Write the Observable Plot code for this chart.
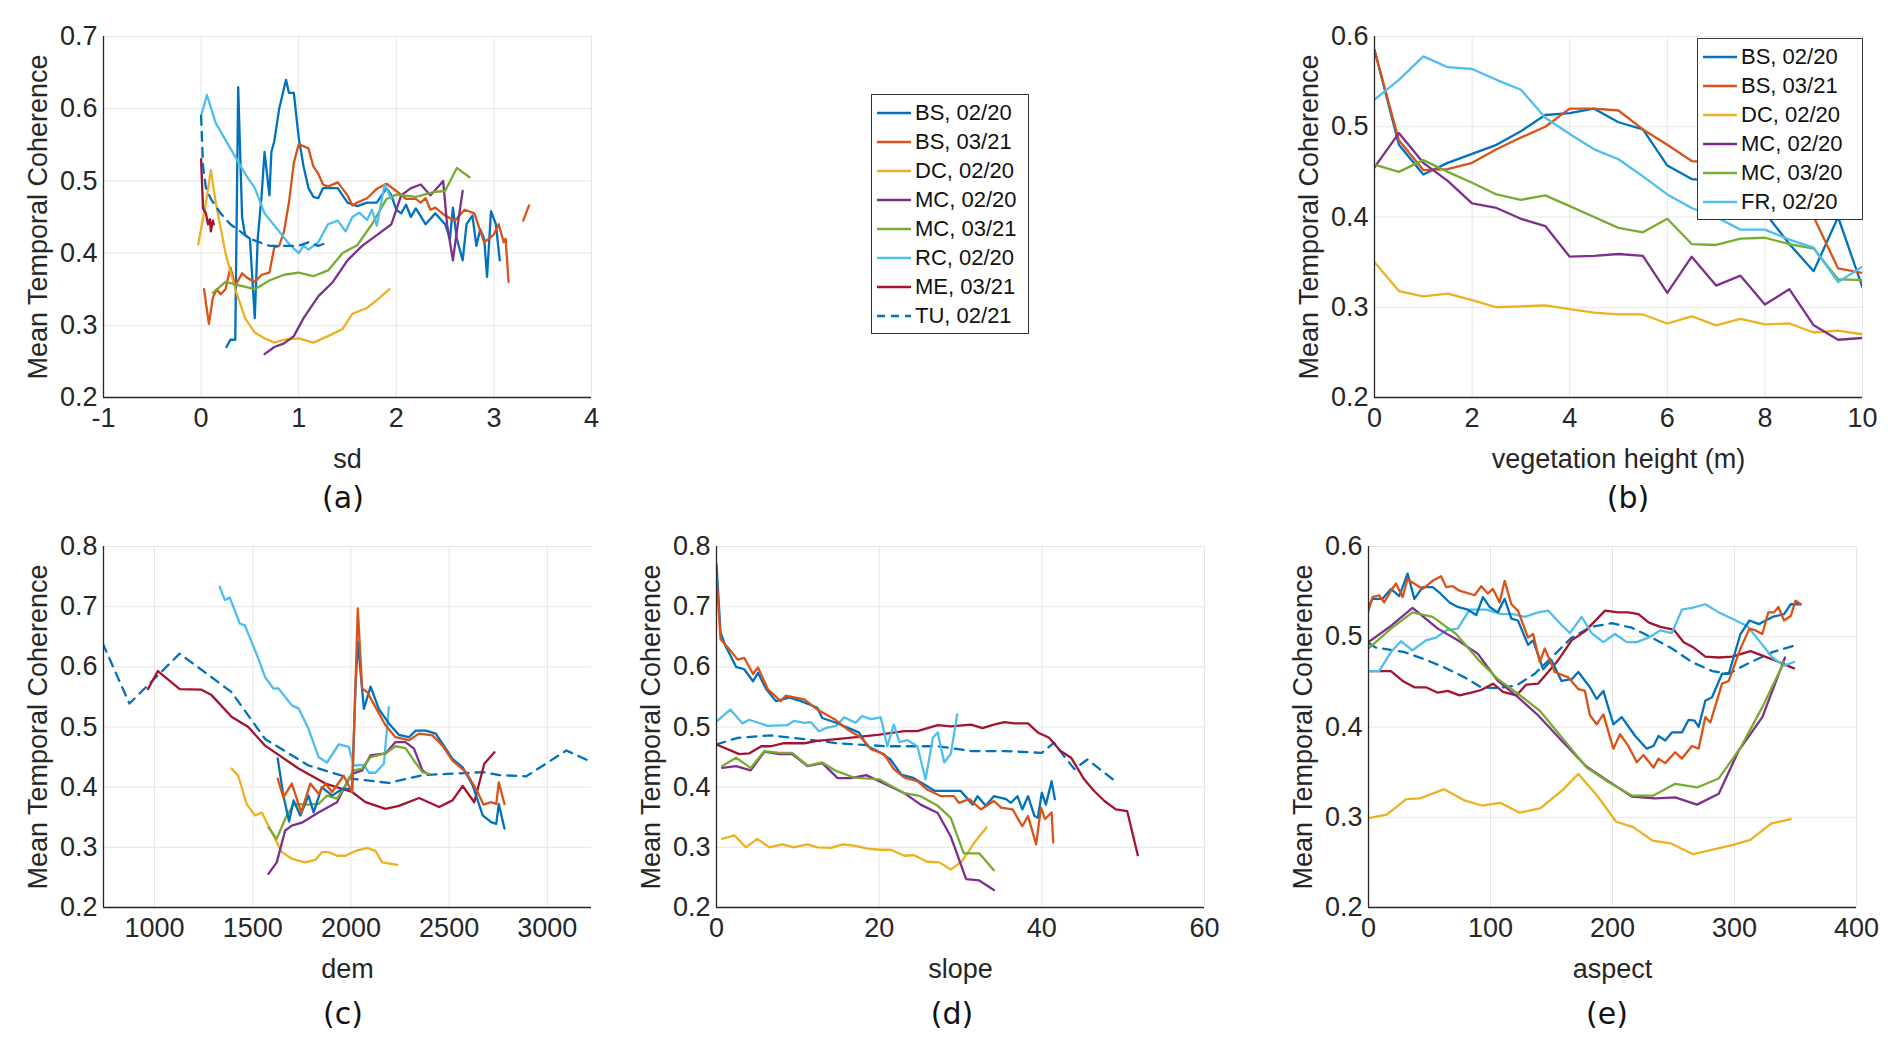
<!DOCTYPE html>
<html><head><meta charset="utf-8">
<script src="https://cdn.jsdelivr.net/npm/d3@7"></script>
<script src="https://cdn.jsdelivr.net/npm/@observablehq/plot@0.6"></script>
<style>
body{margin:0;background:#fff;width:1892px;height:1049px;position:relative;overflow:hidden;font-family:"Liberation Sans",Arial,sans-serif;}
.p{position:absolute}
.lab{position:absolute;font-family:"DejaVu Sans",sans-serif;font-size:30px;color:#111;transform:translateX(-50%)}
.leg{position:absolute;background:#fff;border:1.5px solid #333;font-family:"Liberation Sans",Arial,sans-serif;font-size:22px;color:#111;padding:3px 4px;box-sizing:border-box;white-space:nowrap}
.leg div{display:flex;align-items:center;height:29px;white-space:nowrap}
.leg svg{margin-right:3px;flex:none}
</style></head><body>
<script>
const COLORS = {BS0220:"#0072BD",BS0321:"#D95319",DC:"#EDB120",MC0220:"#7E2F8E",MC03:"#77AC30",RC:"#4DBEEE",ME:"#A2142F"};

// ---------- panel (a): sd ----------
const aBS0220=[[0.26,0.27],[0.3,0.28],[0.35,0.28],[0.38,0.63],[0.42,0.45],[0.45,0.425],[0.5,0.42],[0.55,0.31],[0.58,0.42],[0.62,0.48],[0.65,0.54],[0.7,0.48],[0.72,0.54],[0.75,0.555],[0.8,0.6],[0.87,0.64],[0.9,0.622],[0.95,0.622],[1.0,0.56],[1.05,0.52],[1.1,0.49],[1.15,0.478],[1.2,0.476],[1.25,0.49],[1.3,0.49],[1.4,0.49],[1.5,0.47],[1.6,0.465],[1.7,0.47],[1.8,0.47],[1.9,0.49],[1.95,0.48],[2.0,0.46],[2.05,0.455],[2.1,0.467],[2.15,0.45],[2.2,0.462],[2.3,0.44],[2.4,0.455],[2.5,0.44],[2.55,0.42],[2.58,0.463],[2.62,0.42],[2.68,0.39],[2.72,0.44],[2.78,0.452],[2.82,0.41],[2.86,0.433],[2.9,0.42],[2.93,0.367],[2.97,0.458],[3.02,0.44],[3.06,0.39]];
const aBS0321=[[0.03,0.35],[0.08,0.302],[0.12,0.338],[0.16,0.35],[0.2,0.343],[0.25,0.35],[0.3,0.38],[0.35,0.355],[0.42,0.372],[0.48,0.365],[0.55,0.36],[0.62,0.37],[0.7,0.373],[0.75,0.408],[0.8,0.41],[0.85,0.43],[0.9,0.47],[0.95,0.525],[1.0,0.551],[1.05,0.548],[1.1,0.545],[1.15,0.52],[1.2,0.51],[1.25,0.495],[1.3,0.492],[1.4,0.498],[1.5,0.48],[1.55,0.466],[1.6,0.47],[1.7,0.476],[1.8,0.489],[1.9,0.496],[2.0,0.486],[2.1,0.475],[2.2,0.475],[2.25,0.47],[2.3,0.476],[2.35,0.46],[2.4,0.463],[2.5,0.452],[2.6,0.445],[2.7,0.46],[2.8,0.455],[2.9,0.415],[2.95,0.42],[3.0,0.426],[3.05,0.44],[3.1,0.415],[3.12,0.42],[3.15,0.36]];
const aBS0321b=[[3.3,0.445],[3.36,0.466]];
const aDC=[[-0.03,0.412],[0.05,0.47],[0.1,0.515],[0.15,0.47],[0.25,0.4],[0.35,0.35],[0.45,0.31],[0.55,0.29],[0.65,0.282],[0.75,0.276],[0.85,0.28],[1.0,0.282],[1.15,0.276],[1.3,0.285],[1.45,0.295],[1.55,0.316],[1.7,0.324],[1.8,0.335],[1.93,0.35]];
const aMC0220=[[0.65,0.26],[0.75,0.27],[0.85,0.275],[0.95,0.285],[1.05,0.31],[1.2,0.34],[1.35,0.36],[1.5,0.39],[1.65,0.41],[1.8,0.425],[1.95,0.44],[2.05,0.48],[2.15,0.49],[2.25,0.495],[2.35,0.48],[2.45,0.495],[2.48,0.5],[2.52,0.44],[2.58,0.39],[2.63,0.44],[2.68,0.486]];
const aMC0321=[[0.12,0.345],[0.25,0.36],[0.4,0.355],[0.55,0.35],[0.7,0.362],[0.85,0.37],[1.0,0.373],[1.15,0.368],[1.3,0.376],[1.45,0.4],[1.6,0.411],[1.75,0.44],[1.9,0.475],[2.0,0.481],[2.2,0.478],[2.4,0.485],[2.5,0.486],[2.62,0.518],[2.75,0.505]];
const aRC=[[0.0,0.59],[0.06,0.619],[0.15,0.58],[0.3,0.545],[0.45,0.51],[0.55,0.49],[0.65,0.455],[0.8,0.43],[0.9,0.413],[1.0,0.4],[1.05,0.41],[1.1,0.405],[1.2,0.415],[1.3,0.44],[1.4,0.445],[1.48,0.43],[1.55,0.45],[1.62,0.456],[1.7,0.446],[1.75,0.46],[1.8,0.438],[1.88,0.495],[1.95,0.475]];
const aME=[[0.0,0.53],[0.02,0.462],[0.05,0.455],[0.07,0.44],[0.09,0.447],[0.1,0.43],[0.12,0.445],[0.13,0.44]];
const aTU=[[0.0,0.59],[0.02,0.52],[0.05,0.49],[0.1,0.475],[0.2,0.455],[0.3,0.44],[0.4,0.43],[0.5,0.42],[0.6,0.415],[0.7,0.41],[0.9,0.41],[1.0,0.41],[1.1,0.415],[1.2,0.41],[1.3,0.415]];

// ---------- panel (b): vegetation height ----------
const bX=[0,0.5,1,1.5,2,2.5,3,3.5,4,4.5,5,5.5,6,6.5,7,7.5,8,8.5,9,9.5,10];
const bBS0220=[0.585,0.48,0.447,0.46,0.47,0.48,0.495,0.513,0.515,0.52,0.505,0.497,0.457,0.442,0.44,0.43,0.405,0.37,0.34,0.4,0.322];
const bBS0321=[0.585,0.485,0.452,0.453,0.46,0.475,0.488,0.5,0.52,0.52,0.518,0.497,0.48,0.462,0.46,0.45,0.44,0.43,0.4,0.343,0.338];
const bDC=[0.35,0.318,0.312,0.315,0.308,0.3,0.301,0.302,0.298,0.294,0.292,0.292,0.282,0.29,0.28,0.287,0.281,0.282,0.272,0.274,0.27];
const bMC0220=[0.455,0.493,0.46,0.44,0.415,0.41,0.398,0.39,0.356,0.357,0.359,0.357,0.316,0.356,0.324,0.335,0.303,0.32,0.28,0.264,0.266];
const bMC0320=[0.458,0.45,0.463,0.45,0.438,0.425,0.419,0.424,0.412,0.4,0.388,0.383,0.398,0.37,0.369,0.376,0.377,0.37,0.365,0.331,0.33];
const bFR=[0.53,0.552,0.578,0.566,0.564,0.552,0.541,0.51,0.492,0.475,0.464,0.445,0.425,0.41,0.4,0.386,0.386,0.375,0.366,0.328,0.345];

// ---------- panel (c): dem ----------
const cTU=[[736,0.639],[872,0.539],[1128,0.622],[1392,0.558],[1563,0.48],[1784,0.436],[2006,0.414],[2193,0.407],[2364,0.42],[2671,0.425],[2756,0.42],[2893,0.418],[3097,0.461],[3216,0.443]];
const cME=[[966,0.563],[1017,0.593],[1128,0.563],[1239,0.562],[1290,0.553],[1392,0.517],[1477,0.5],[1563,0.469],[1733,0.431],[1870,0.406],[2006,0.392],[2074,0.375],[2176,0.364],[2244,0.369],[2347,0.382],[2449,0.367],[2517,0.378],[2569,0.402],[2628,0.375],[2679,0.439],[2731,0.458]];
const cRC=[[1332,0.733],[1358,0.711],[1383,0.715],[1434,0.672],[1460,0.669],[1528,0.614],[1563,0.583],[1605,0.564],[1631,0.564],[1699,0.536],[1733,0.531],[1784,0.497],[1835,0.45],[1878,0.441],[1938,0.471],[1989,0.467],[2014,0.436],[2066,0.437],[2091,0.424],[2125,0.424],[2168,0.439],[2193,0.533]];
const cBS0220=[[1627,0.448],[1656,0.386],[1685,0.343],[1708,0.378],[1742,0.353],[1784,0.386],[1810,0.358],[1852,0.4],[1904,0.386],[1955,0.397],[2006,0.397],[2023,0.564],[2035,0.642],[2066,0.53],[2100,0.567],[2142,0.53],[2193,0.506],[2244,0.487],[2295,0.483],[2330,0.494],[2381,0.494],[2432,0.489],[2483,0.464],[2517,0.447],[2569,0.433],[2620,0.403],[2671,0.353],[2714,0.342],[2740,0.339],[2753,0.372],[2782,0.331]];
const cBS0321=[[1627,0.414],[1656,0.383],[1699,0.406],[1747,0.358],[1793,0.406],[1835,0.389],[1870,0.406],[1904,0.392],[1963,0.419],[2006,0.392],[2035,0.697],[2057,0.564],[2083,0.558],[2125,0.533],[2176,0.503],[2227,0.483],[2295,0.478],[2347,0.489],[2415,0.486],[2466,0.469],[2517,0.444],[2586,0.425],[2637,0.397],[2675,0.371],[2714,0.375],[2740,0.372],[2753,0.408],[2782,0.372]];
const cDC=[[1392,0.431],[1426,0.419],[1469,0.372],[1511,0.353],[1546,0.358],[1588,0.331],[1648,0.292],[1699,0.281],[1767,0.275],[1818,0.279],[1852,0.292],[1886,0.292],[1929,0.286],[1972,0.286],[2023,0.294],[2083,0.299],[2125,0.294],[2159,0.275],[2236,0.271]];
const cMC0220=[[1580,0.256],[1622,0.275],[1665,0.328],[1699,0.336],[1750,0.341],[1835,0.358],[1929,0.375],[1972,0.403],[2006,0.422],[2057,0.428],[2100,0.453],[2176,0.456],[2227,0.475],[2278,0.475],[2321,0.464],[2364,0.428],[2389,0.422]];
const cMC0321=[[1580,0.333],[1622,0.314],[1665,0.347],[1708,0.372],[1784,0.371],[1835,0.372],[1878,0.386],[1929,0.381],[1972,0.403],[2014,0.428],[2057,0.431],[2100,0.45],[2176,0.456],[2227,0.468],[2278,0.465],[2321,0.444],[2364,0.425],[2398,0.422]];

// ---------- panel (d): slope ----------
const dBS0220=[[0,0.77],[0.5,0.657],[1.1,0.635],[2.4,0.6],[3.4,0.596],[4.5,0.576],[5.1,0.59],[6.1,0.563],[7.3,0.543],[8.9,0.549],[10.4,0.543],[12.4,0.532],[13,0.515],[14.7,0.507],[16.1,0.499],[17.5,0.491],[18.6,0.468],[20.2,0.457],[21.4,0.446],[22.7,0.421],[24.1,0.416],[25.5,0.405],[26.8,0.394],[28.2,0.394],[30,0.394],[31.5,0.371],[32.1,0.385],[33.1,0.369],[34.1,0.385],[35.6,0.38],[36.2,0.374],[37,0.385],[37.6,0.363],[38.3,0.385],[39.1,0.352],[39.5,0.349],[40,0.391],[40.5,0.371],[41.2,0.41],[41.6,0.38]];
const dBS0321=[[0,0.751],[0.5,0.646],[1.4,0.632],[2.6,0.612],[3.4,0.615],[4.5,0.588],[5.1,0.599],[6.3,0.563],[7.9,0.543],[8.5,0.552],[10.8,0.546],[12.4,0.529],[14.5,0.513],[16.1,0.496],[17.8,0.482],[19,0.463],[20.6,0.455],[21.8,0.43],[23.1,0.416],[24.7,0.41],[25.9,0.396],[27.6,0.385],[29.2,0.385],[29.8,0.374],[31.1,0.38],[32.5,0.363],[34.1,0.377],[35,0.366],[36.4,0.363],[37.6,0.335],[38.3,0.352],[39.3,0.305],[39.9,0.366],[40.4,0.347],[41.2,0.358],[41.4,0.308]];
const dRC=[[0.1,0.51],[1.7,0.529],[3.2,0.506],[4,0.512],[6.3,0.502],[8.7,0.503],[9.5,0.51],[10.8,0.507],[11.6,0.508],[12.6,0.493],[13.6,0.499],[14.7,0.502],[15.7,0.516],[17.1,0.507],[17.9,0.518],[19,0.513],[20.2,0.516],[21,0.468],[21.8,0.504],[22.5,0.475],[23.5,0.478],[24.7,0.468],[25.7,0.413],[26.6,0.482],[27.2,0.491],[28,0.441],[28.8,0.455],[29.6,0.521]];
const dTU=[[0,0.471],[2.6,0.482],[6.7,0.486],[10.8,0.48],[14.9,0.473],[21,0.468],[27.2,0.468],[31.3,0.46],[35.4,0.46],[40,0.457],[41.5,0.474],[42.7,0.452],[44,0.43],[45.6,0.446],[49.3,0.407]];
const dME=[[0,0.471],[2.8,0.455],[4,0.456],[5.5,0.468],[6.7,0.468],[8.3,0.473],[10.8,0.473],[12.4,0.477],[15.7,0.481],[19.8,0.487],[23.1,0.493],[24.7,0.493],[27.2,0.503],[28.8,0.501],[31.3,0.504],[32.7,0.498],[34.1,0.504],[35.4,0.508],[36.6,0.506],[38.3,0.506],[39.5,0.491],[40.9,0.482],[42.3,0.46],[43.6,0.449],[45.2,0.413],[46.4,0.394],[47.7,0.377],[49.1,0.363],[50.5,0.36],[51.8,0.287]];
const dMC0321=[[0.7,0.435],[2.4,0.449],[4.2,0.432],[5.9,0.46],[7.7,0.457],[9.3,0.457],[11.2,0.436],[13,0.441],[14.7,0.427],[16.9,0.416],[20,0.413],[23.1,0.39],[25.1,0.385],[27.2,0.369],[28.8,0.349],[30.4,0.29],[32.3,0.29],[34.1,0.262]];
const dMC0220=[[0.7,0.432],[2.4,0.435],[4.2,0.428],[5.9,0.459],[7.7,0.455],[9.3,0.455],[11.2,0.435],[13,0.44],[14.9,0.415],[16.5,0.415],[18.4,0.42],[20,0.41],[23.1,0.39],[25.1,0.371],[27.2,0.357],[28.8,0.318],[30.7,0.247],[32.3,0.245],[34.1,0.229]];
const dDC=[[0.7,0.314],[2.2,0.32],[3.6,0.3],[5,0.314],[6.5,0.3],[8.1,0.305],[9.5,0.3],[11.2,0.305],[12.4,0.3],[14.1,0.299],[15.5,0.305],[16.9,0.303],[18.6,0.298],[20,0.296],[21.4,0.296],[23.1,0.286],[24.3,0.287],[25.9,0.276],[27.4,0.275],[28.8,0.263],[30.2,0.277],[31.7,0.308],[33.2,0.333]];

// ---------- panel (e): aspect ----------
const eBS0220=[[0,0.533],[3.3,0.542],[11.5,0.542],[18.4,0.553],[25.2,0.545],[32,0.57],[37.6,0.542],[44.4,0.555],[52.6,0.555],[58.1,0.549],[66.4,0.538],[73.2,0.533],[81.4,0.53],[88.3,0.524],[93.8,0.544],[99.3,0.533],[106,0.527],[111.6,0.542],[117.1,0.52],[122.5,0.518],[130.8,0.491],[134.9,0.496],[143.1,0.464],[150,0.474],[158.2,0.451],[166.5,0.453],[172,0.461],[181.5,0.444],[187,0.431],[192.5,0.44],[200.7,0.403],[207.6,0.411],[218.6,0.39],[228.1,0.376],[233.6,0.379],[237.7,0.39],[243.2,0.385],[248.7,0.394],[256.9,0.394],[262.4,0.408],[267.3,0.407],[270.6,0.4],[276.1,0.429],[281.6,0.433],[289.8,0.459],[295.3,0.459],[304.9,0.503],[312.3,0.518],[320,0.514],[331,0.522],[340.6,0.525],[346.1,0.536],[354.3,0.536]];
const eBS0321=[[0,0.529],[3.3,0.544],[8.7,0.546],[12.8,0.538],[18.4,0.551],[22.5,0.559],[28,0.544],[32,0.564],[36.1,0.56],[44.4,0.553],[52.6,0.562],[59.5,0.567],[63.6,0.555],[69.1,0.556],[74.6,0.551],[86.9,0.546],[92.4,0.556],[97.9,0.548],[102,0.553],[107.5,0.538],[111.6,0.562],[117.1,0.536],[122.5,0.529],[130.8,0.499],[134.9,0.503],[140.4,0.472],[144.5,0.487],[152.7,0.461],[163.7,0.455],[171.9,0.442],[177.4,0.44],[181.5,0.413],[187,0.403],[192.5,0.414],[200.7,0.376],[206.2,0.392],[213,0.379],[219.9,0.361],[225.4,0.369],[233.6,0.355],[237.7,0.365],[243.2,0.36],[251.4,0.372],[256.9,0.365],[265.1,0.379],[270.6,0.376],[276.1,0.411],[280.2,0.405],[289.8,0.448],[295.3,0.451],[304.9,0.487],[312.3,0.509],[317.3,0.507],[322.8,0.503],[327.7,0.527],[332.4,0.527],[336,0.533],[340.6,0.518],[346.1,0.523],[350.1,0.54],[354.3,0.536]];
const eMC0220=[[0,0.494],[18.4,0.512],[36.1,0.532],[56.8,0.509],[73.2,0.496],[89.7,0.481],[106.1,0.451],[122.5,0.433],[139,0.413],[158.2,0.385],[178.8,0.356],[196.6,0.34],[215.8,0.323],[234.9,0.321],[251.4,0.322],[269.3,0.314],[287.1,0.326],[303.5,0.374],[322.8,0.411],[341.4,0.477]];
const eMC0321=[[0,0.487],[18.4,0.509],[36.1,0.527],[52.6,0.522],[71.8,0.503],[89.7,0.475],[106.1,0.453],[122.5,0.437],[140.4,0.418],[158.2,0.389],[178.8,0.355],[196.6,0.339],[215.8,0.324],[233.6,0.324],[251.4,0.337],[269.3,0.333],[287.1,0.343],[304.9,0.377],[322.8,0.422],[340.6,0.472]];
const eRC=[[0,0.462],[8.7,0.462],[18.4,0.483],[26.6,0.495],[36.1,0.485],[47.1,0.496],[55.4,0.499],[63.6,0.507],[73.2,0.509],[82.8,0.53],[96.5,0.53],[108.9,0.525],[118.4,0.525],[128.1,0.522],[139,0.527],[147.2,0.529],[158.2,0.513],[165.1,0.504],[174.7,0.522],[182.9,0.504],[192.5,0.494],[202.1,0.503],[211.7,0.494],[219.9,0.494],[229.5,0.499],[239.1,0.507],[248.7,0.504],[256.9,0.53],[265.1,0.532],[276.1,0.536],[287.1,0.527],[298.1,0.52],[310.4,0.512],[320,0.496],[331,0.477],[340.6,0.468],[348.8,0.472]];
const eTU=[[0,0.493],[6,0.488],[29.4,0.483],[45.9,0.475],[62.3,0.466],[78.7,0.455],[92.4,0.444],[106.1,0.443],[121.2,0.446],[136.3,0.459],[150,0.477],[166.5,0.499],[182.9,0.511],[199.3,0.515],[215.8,0.51],[232.3,0.499],[248.7,0.487],[265.1,0.472],[281.6,0.462],[295.3,0.459],[309,0.469],[331,0.483],[348.8,0.49]];
const eME=[[0,0.462],[18.4,0.462],[28,0.451],[37.6,0.444],[47.1,0.444],[56.8,0.438],[65,0.44],[74.6,0.435],[84.2,0.438],[92.4,0.441],[102,0.448],[110.2,0.439],[121.2,0.435],[129.4,0.447],[139,0.448],[155.5,0.474],[166.5,0.496],[177.4,0.506],[193.9,0.529],[204.8,0.527],[213,0.527],[221.3,0.525],[229.5,0.516],[239.1,0.511],[250.1,0.508],[258.3,0.494],[266.5,0.488],[276.1,0.478],[287.1,0.477],[298.1,0.478],[313.1,0.484],[331,0.475],[348.8,0.465]];
const eDC=[[0,0.299],[15,0.303],[31,0.32],[42,0.321],[62,0.331],[78,0.319],[93,0.313],[108,0.316],[124,0.305],[141,0.31],[159,0.33],[172,0.348],[188,0.323],[203,0.295],[217,0.289],[233,0.274],[248,0.271],[266,0.259],[282,0.264],[298,0.269],[313,0.275],[330,0.293],[346,0.298]];

const zip=(xs,ys)=>xs.map((x,i)=>[x,ys[i]]);

function panel({left,top,xdom,xticks,ydom,yticks,xlabel,series}){
  const W=488,H=361,ml=104,mr=26,mt=16,mb=80;
  const marks=[
    Plot.gridX(xticks,{stroke:"#e6e6e6",strokeOpacity:1,strokeWidth:1}),
    Plot.gridY(yticks,{stroke:"#e6e6e6",strokeOpacity:1,strokeWidth:1}),
    ...series.map(s=>Plot.line(s.pts,{x:d=>d[0],y:d=>d[1],stroke:s.c,strokeWidth:2.3,strokeDasharray:s.dash?"9,7":null,clip:true})),
    Plot.ruleX([xdom[0]],{stroke:"#262626",strokeWidth:1.3}),
    Plot.ruleY([ydom[0]],{stroke:"#262626",strokeWidth:1.3}),
    Plot.axisX(xticks,{tickSize:0,tickPadding:10,tickFormat:d=>String(d),label:xlabel,labelAnchor:"center",labelArrow:"none",labelOffset:70,fill:"#262626",fontSize:27}),
    Plot.axisY(yticks,{tickSize:0,tickPadding:6,tickFormat:d3.format(".1f"),label:"Mean Temporal Coherence",labelAnchor:"center",labelArrow:"none",labelOffset:76,fill:"#262626",fontSize:27})
  ];
  const svg=Plot.plot({width:W+ml+mr,height:H+mt+mb,marginLeft:ml,marginRight:mr,marginTop:mt,marginBottom:mb,
    x:{domain:xdom},y:{domain:ydom},
    style:{fontSize:"27px",fontFamily:"Liberation Sans, Arial, sans-serif",color:"#262626",background:"transparent",overflow:"visible"},marks});
  svg.classList.add("p");svg.style.left=(left-ml)+"px";svg.style.top=(top-mt)+"px";
  document.body.appendChild(svg);
}
const C=COLORS;
panel({left:103,top:36,xdom:[-1,4],xticks:[-1,0,1,2,3,4],ydom:[0.2,0.7],yticks:[0.2,0.3,0.4,0.5,0.6,0.7],xlabel:"sd",series:[
 {pts:aBS0220,c:C.BS0220},{pts:aBS0321,c:C.BS0321},{pts:aBS0321b,c:C.BS0321},{pts:aDC,c:C.DC},{pts:aMC0220,c:C.MC0220},
 {pts:aMC0321,c:C.MC03},{pts:aRC,c:C.RC},{pts:aME,c:C.ME},{pts:aTU,c:C.BS0220,dash:true}]});
panel({left:1374,top:36,xdom:[0,10],xticks:[0,2,4,6,8,10],ydom:[0.2,0.6],yticks:[0.2,0.3,0.4,0.5,0.6],xlabel:"vegetation height (m)",series:[
 {pts:zip(bX,bBS0220),c:C.BS0220},{pts:zip(bX,bBS0321),c:C.BS0321},{pts:zip(bX,bDC),c:C.DC},{pts:zip(bX,bMC0220),c:C.MC0220},
 {pts:zip(bX,bMC0320),c:C.MC03},{pts:zip(bX,bFR),c:C.RC}]});
panel({left:103,top:546,xdom:[740,3225],xticks:[1000,1500,2000,2500,3000],ydom:[0.2,0.8],yticks:[0.2,0.3,0.4,0.5,0.6,0.7,0.8],xlabel:"dem",series:[
 {pts:cTU,c:C.BS0220,dash:true},{pts:cME,c:C.ME},{pts:cRC,c:C.RC},{pts:cDC,c:C.DC},{pts:cMC0220,c:C.MC0220},{pts:cMC0321,c:C.MC03},
 {pts:cBS0220,c:C.BS0220},{pts:cBS0321,c:C.BS0321}]});
panel({left:716,top:546,xdom:[0,60],xticks:[0,20,40,60],ydom:[0.2,0.8],yticks:[0.2,0.3,0.4,0.5,0.6,0.7,0.8],xlabel:"slope",series:[
 {pts:dTU,c:C.BS0220,dash:true},{pts:dME,c:C.ME},{pts:dRC,c:C.RC},{pts:dDC,c:C.DC},{pts:dMC0220,c:C.MC0220},{pts:dMC0321,c:C.MC03},
 {pts:dBS0220,c:C.BS0220},{pts:dBS0321,c:C.BS0321}]});
panel({left:1368,top:546,xdom:[0,400],xticks:[0,100,200,300,400],ydom:[0.2,0.6],yticks:[0.2,0.3,0.4,0.5,0.6],xlabel:"aspect",series:[
 {pts:eTU,c:C.BS0220,dash:true},{pts:eME,c:C.ME},{pts:eRC,c:C.RC},{pts:eDC,c:C.DC},{pts:eMC0220,c:C.MC0220},{pts:eMC0321,c:C.MC03},
 {pts:eBS0220,c:C.BS0220},{pts:eBS0321,c:C.BS0321}]});

function legend(left,top,w,items){
  const box=document.createElement("div");box.className="leg";box.style.left=left+"px";box.style.top=top+"px";box.style.width=w+"px";
  for(const [name,col,dash] of items){
    const r=document.createElement("div");
    r.innerHTML=`<svg width="36" height="10"><line x1="1" y1="5" x2="35" y2="5" stroke="${col}" stroke-width="2.3" ${dash?'stroke-dasharray="8,6"':''}/></svg><span>${name}</span>`;
    box.appendChild(r);
  }
  document.body.appendChild(box);
}
const legA=["BS, 02/20","BS, 03/21","DC, 02/20","MC, 02/20","MC, 03/21","RC, 02/20","ME, 03/21","TU, 02/21"];
const legB=["BS, 02/20","BS, 03/21","DC, 02/20","MC, 02/20","MC, 03/20","FR, 02/20"];
const colA=[C.BS0220,C.BS0321,C.DC,C.MC0220,C.MC03,C.RC,C.ME,C.BS0220];
legend(871,94,158,legA.map((n,i)=>[n,colA[i],i===7]));
legend(1697,38,166,legB.map((n,i)=>[n,colA[i],false]));

const labs=[["(a)",343,480],["(b)",1628,480],["(c)",343,996],["(d)",952,996],["(e)",1607,996]];
for(const [t,x,y] of labs){const d=document.createElement("div");d.className="lab";d.textContent=t;d.style.left=x+"px";d.style.top=y+"px";document.body.appendChild(d);}
</script>
</body></html>
